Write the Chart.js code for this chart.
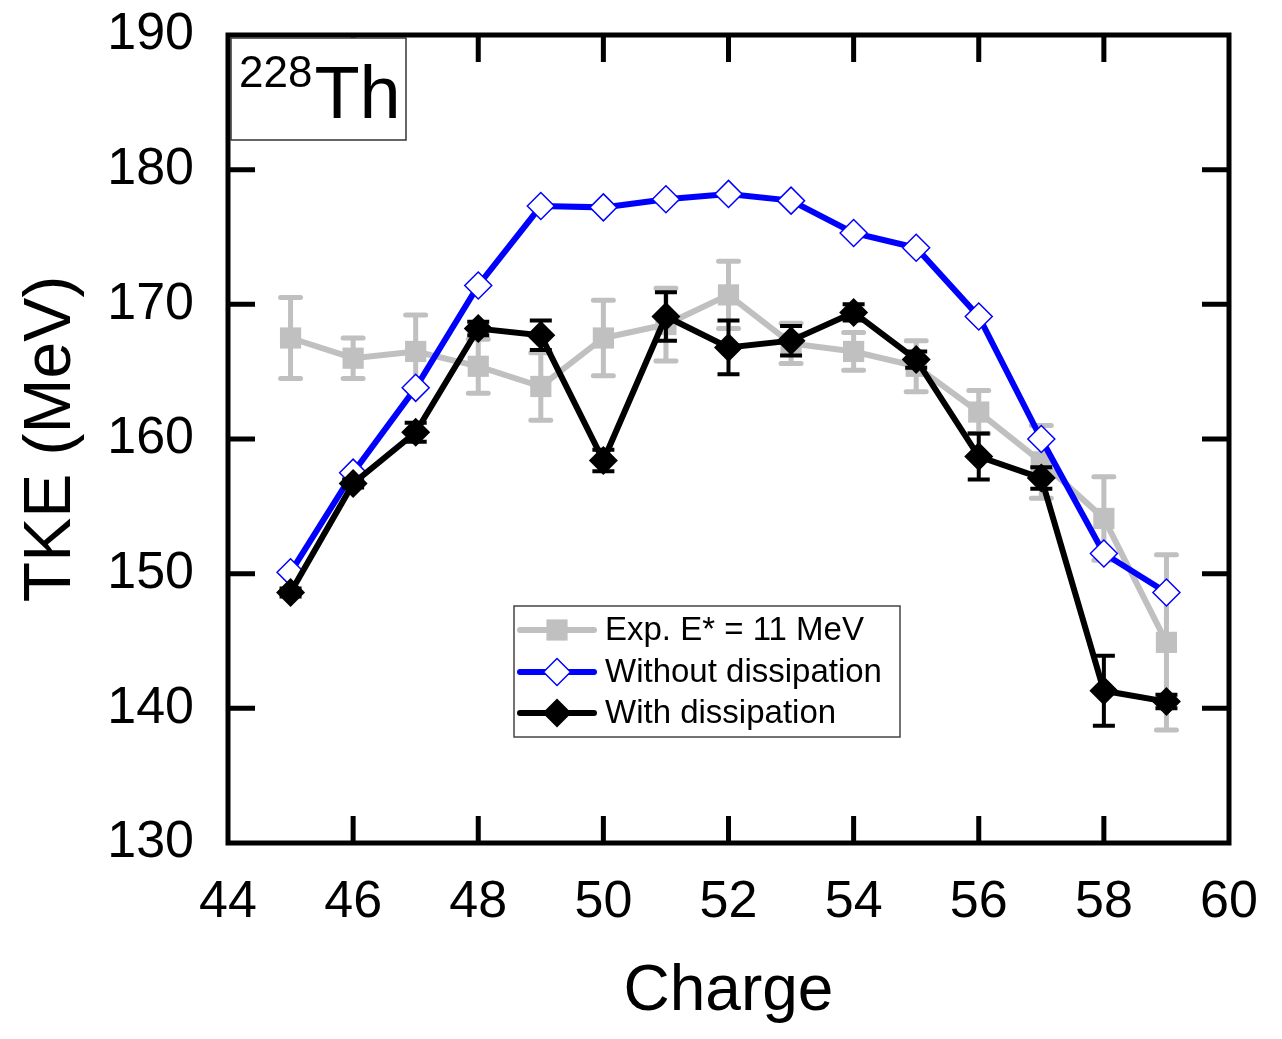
<!DOCTYPE html>
<html>
<head>
<meta charset="utf-8">
<script src="https://cdn.jsdelivr.net/npm/chart.js@4.4.1/dist/chart.umd.min.js"></script>
<style>
  html, body { margin: 0; padding: 0; background: #fff; }
</style>
</head>
<body>
<canvas id="tke" width="1282" height="1039"></canvas>
<script>
// datos
var charges = [45, 46, 47, 48, 49, 50, 51, 52, 53, 54, 55, 56, 57, 58, 59];
var expTKE = [167.5, 166.0, 166.5, 165.4, 163.9, 167.5, 168.5, 170.7, 167.1, 166.5, 165.4, 162.0, 158.3, 154.1, 144.9];
var expErr = [3.0, 1.5, 2.7, 2.0, 2.5, 2.8, 2.7, 2.5, 1.5, 1.4, 1.9, 1.6, 2.7, 3.1, 6.5];
var sinDis = [150.1, 157.5, 163.8, 171.4, 177.3, 177.2, 177.8, 178.2, 177.7, 175.3, 174.2, 169.1, 160.0, 151.5, 148.6];
var conDis = [148.6, 156.7, 160.5, 168.2, 167.7, 158.4, 169.1, 166.8, 167.3, 169.4, 165.9, 158.7, 157.1, 141.3, 140.5];
var conErr = [0.3, 0.3, 0.7, 0.5, 1.1, 0.8, 1.8, 2.0, 1.1, 0.6, 0.6, 1.7, 0.8, 2.6, 0.5];
var xTicks = [44, 46, 48, 50, 52, 54, 56, 58, 60];
var yTicks = [130, 140, 150, 160, 170, 180, 190];
var etiquetas = ['Exp. E* = 11 MeV', 'Without dissipation', 'With dissipation'];

var FUENTE = "'Liberation Sans', Arial, Helvetica, sans-serif";
var GRIS = '#c0c0c0';
var AZUL = '#0000ff';

function puntos(ys) {
    return charges.map(function (c, i) { return { x: c, y: ys[i] }; });
}

// barras de error, se dibujan antes de cada serie
var errorBars = {
    id: 'errorBars',
    beforeDatasetDraw: function (chart, args) {
        var ds = chart.data.datasets[args.index];
        if (!ds.errores) return;
        var ctx = chart.ctx;
        var ys = chart.scales.y;
        ctx.save();
        ctx.strokeStyle = ds.errColor;
        ctx.lineWidth = ds.errWidth;
        ctx.lineCap = ds.errCap;
        args.meta.data.forEach(function (p, i) {
            var v = ds.data[i].y, e = ds.errores[i];
            var y1 = ys.getPixelForValue(v + e);
            var y2 = ys.getPixelForValue(v - e);
            var w = ds.capHalf;
            ctx.beginPath();
            ctx.moveTo(p.x, y1); ctx.lineTo(p.x, y2);
            ctx.moveTo(p.x - w, y1); ctx.lineTo(p.x + w, y1);
            ctx.moveTo(p.x - w, y2); ctx.lineTo(p.x + w, y2);
            ctx.stroke();
        });
        ctx.restore();
    }
};

// marco, ticks hacia dentro, leyenda y etiqueta 228Th
var marco = {
    id: 'marco',
    afterDraw: function (chart) {
        var ctx = chart.ctx;
        var a = chart.chartArea;
        var xs = chart.scales.x, ys = chart.scales.y;
        ctx.save();
        ctx.strokeStyle = '#000';
        ctx.lineWidth = 5;
        ctx.lineCap = 'butt';
        ctx.strokeRect(a.left, a.top, a.right - a.left, a.bottom - a.top);
        ctx.beginPath();
        xTicks.forEach(function (t) {
            var px = xs.getPixelForValue(t);
            if (t === xs.min || t === xs.max) return;
            ctx.moveTo(px, a.bottom); ctx.lineTo(px, a.bottom - 27);
            ctx.moveTo(px, a.top); ctx.lineTo(px, a.top + 27);
        });
        yTicks.forEach(function (t) {
            var py = ys.getPixelForValue(t);
            if (t === ys.min || t === ys.max) return;
            ctx.moveTo(a.left, py); ctx.lineTo(a.left + 27, py);
            ctx.moveTo(a.right, py); ctx.lineTo(a.right - 27, py);
        });
        ctx.stroke();

        // caja 228Th
        ctx.fillStyle = '#fff';
        ctx.fillRect(231, 38, 175, 102);
        ctx.lineWidth = 1.5;
        ctx.strokeStyle = '#333';
        ctx.strokeRect(231, 38, 175, 102);
        ctx.fillStyle = '#000';
        ctx.textBaseline = 'alphabetic';
        ctx.textAlign = 'left';
        ctx.font = '44px ' + FUENTE;
        ctx.fillText('228', 239, 87);
        var w = ctx.measureText('228').width;
        ctx.font = '74px ' + FUENTE;
        ctx.fillText('Th', 239 + w + 2, 118);

        // leyenda
        var lx = 514, ly = 606, lw = 386, lh = 131;
        ctx.fillStyle = '#fff';
        ctx.fillRect(lx, ly, lw, lh);
        ctx.lineWidth = 1.5;
        ctx.strokeStyle = '#444';
        ctx.strokeRect(lx, ly, lw, lh);
        var filas = [630, 672, 713];
        chart.data.datasets.forEach(function (ds, i) {
            var y = filas[i];
            ctx.strokeStyle = ds.borderColor;
            ctx.lineWidth = ds.borderWidth;
            ctx.lineCap = 'round';
            ctx.beginPath();
            ctx.moveTo(520, y); ctx.lineTo(594, y);
            ctx.stroke();
            ctx.fillStyle = ds.pointBackgroundColor;
            ctx.strokeStyle = ds.pointBorderColor;
            ctx.lineWidth = ds.pointBorderWidth;
            Chart.helpers.drawPoint(ctx, {
                pointStyle: ds.pointStyle,
                radius: ds.pointRadius,
                borderWidth: ds.pointBorderWidth,
                rotation: 0
            }, 557, y);
            ctx.fillStyle = '#000';
            ctx.font = '33px ' + FUENTE;
            ctx.textBaseline = 'middle';
            ctx.fillText(ds.label, 605, y + 1);
        });
        ctx.restore();
    }
};

var grafico = new Chart(document.getElementById('tke').getContext('2d'), {
    type: 'line',
    data: {
        datasets: [{
            label: etiquetas[0],
            data: puntos(expTKE),
            errores: expErr,
            errColor: GRIS, errWidth: 5, errCap: 'round', capHalf: 10,
            borderColor: GRIS,
            borderWidth: 6,
            pointStyle: 'rect',
            pointRadius: 15,
            pointBackgroundColor: GRIS,
            pointBorderColor: GRIS,
            pointBorderWidth: 0,
            order: 3
        }, {
            label: etiquetas[1],
            data: puntos(sinDis),
            borderColor: AZUL,
            borderWidth: 6,
            pointStyle: 'rectRot',
            pointRadius: 13.5,
            pointBackgroundColor: '#fff',
            pointBorderColor: AZUL,
            pointBorderWidth: 1.5,
            order: 2
        }, {
            label: etiquetas[2],
            data: puntos(conDis),
            errores: conErr,
            errColor: '#000', errWidth: 4, errCap: 'butt', capHalf: 11,
            borderColor: '#000',
            borderWidth: 6,
            pointStyle: 'rectRot',
            pointRadius: 14.5,
            pointBackgroundColor: '#000',
            pointBorderColor: '#000',
            pointBorderWidth: 0,
            order: 1
        }]
    },
    options: {
        responsive: false,
        animation: false,
        devicePixelRatio: 1,
        clip: false,
        layout: { padding: { left: 0, right: 53, top: 35, bottom: 0 } },
        elements: { line: { tension: 0 } },
        plugins: {
            legend: { display: false },
            tooltip: { enabled: false }
        },
        scales: {
            x: {
                type: 'linear',
                min: 44, max: 60,
                afterBuildTicks: function (s) { s.ticks = xTicks.map(function (v) { return { value: v }; }); },
                ticks: { color: '#000', font: { family: FUENTE, size: 52 }, padding: 28, maxRotation: 0 },
                grid: { display: false, drawTicks: false },
                border: { display: false },
                title: { display: true, text: 'Charge', color: '#000', font: { family: FUENTE, size: 64 }, padding: { top: 0, bottom: 8 } },
                afterFit: function (s) { s.height = 196; s.paddingLeft = 0; s.paddingRight = 0; }
            },
            y: {
                min: 130, max: 190,
                afterBuildTicks: function (s) { s.ticks = yTicks.map(function (v) { return { value: v }; }); },
                ticks: { color: '#000', font: { family: FUENTE, size: 52 }, padding: 34 },
                grid: { display: false, drawTicks: false },
                border: { display: false },
                title: { display: true, text: 'TKE (MeV)', color: '#000', font: { family: FUENTE, size: 66 }, padding: { top: 12, bottom: 0 } },
                afterFit: function (s) { s.width = 228; s.paddingTop = 0; s.paddingBottom = 0; }
            }
        }
    },
    plugins: [errorBars, marco]
});
</script>
</body>
</html>
